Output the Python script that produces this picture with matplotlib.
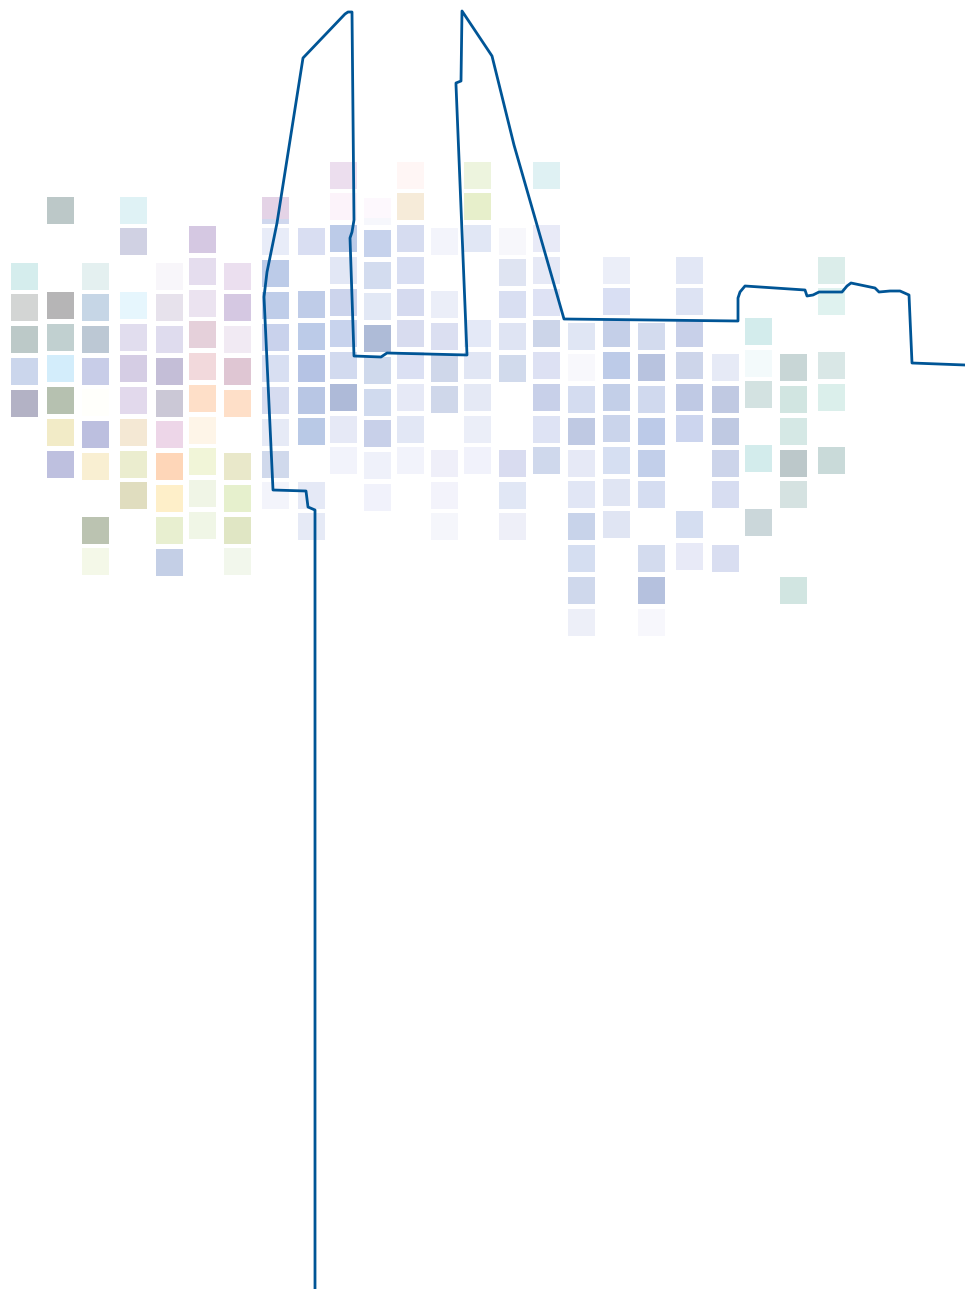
import matplotlib
matplotlib.use("Agg")
import matplotlib.pyplot as plt
from matplotlib.patches import Rectangle

# left edge of every column of squares
lefts = [11, 47, 82, 120, 156, 189, 224, 262, 298, 330, 364, 397,
         431, 464, 499, 533, 568, 603, 638, 676, 712, 745, 780, 818]

tops = [
    [263, 294, 326, 358, 390],
    [197, 292, 324, 355, 387, 419, 451],
    [263, 294, 326, 358, 389, 421, 453, 517, 548],
    [197, 228, 292, 324, 355, 387, 419, 451, 482],
    [263, 294, 326, 358, 390, 421, 453, 485, 517, 549],
    [226, 258, 290, 321, 353, 385, 417, 448, 480, 512],
    [263, 294, 326, 358, 390, 453, 485, 517, 548],
    [197, 228, 260, 292, 324, 355, 387, 419, 451, 482],
    [228, 291, 323, 355, 387, 418, 482, 513],
    [162, 193, 225, 257, 289, 320, 352, 384, 416, 447],
    [198, 230, 262, 293, 325, 357, 389, 420, 452, 484],
    [162, 193, 225, 257, 289, 320, 352, 384, 416, 447],
    [228, 291, 323, 355, 386, 450, 482, 513],
    [162, 193, 225, 320, 352, 384, 416, 447],
    [228, 259, 291, 323, 355, 450, 482, 513],
    [162, 225, 257, 289, 320, 352, 384, 416, 447],
    [323, 354, 386, 418, 450, 481, 513, 545, 577, 609],
    [257, 288, 320, 352, 384, 415, 447, 479, 511],
    [323, 354, 386, 418, 450, 481, 545, 577, 609],
    [257, 288, 320, 352, 384, 415, 511, 543],
    [354, 386, 418, 450, 481, 545],
    [318, 350, 381, 445, 509],
    [354, 386, 418, 450, 481, 577],
    [257, 288, 352, 384, 447],
]

colors = [
    ["#d5eded", "#d3d5d4", "#bcc9c8", "#cbd6ec", "#b3b2c5"],
    ["#bcc8c8", "#b6b5b6", "#c1d0d0", "#d3edfb", "#b6c1b0", "#f2ebc7", "#bec0df"],
    ["#e4f0f0", "#c6d6e6", "#bcc8d4", "#c8cde8", "#fffffb", "#bcbfdf", "#f9efd2", "#bbc3b1", "#f4f8e8"],
    ["#dff2f5", "#d0d1e3", "#e6f6fd", "#e1ddee", "#d5cde4", "#e2d9ec", "#f4e8d4", "#ebedcf", "#e0ddbf"],
    ["#f8f6fa", "#e7e2ec", "#dfdcee", "#c4bed7", "#cbc8d6", "#edd6e8", "#fed6b8", "#feefc9", "#e8efd0", "#c4cfe6"],
    ["#d5c8e2", "#e5ddee", "#ebe3f0", "#e5d0da", "#f2d9dc", "#fedfc8", "#fef5e8", "#f1f5d8", "#f0f5e6", "#f0f6e6"],
    ["#ebdfef", "#d5c8e2", "#f1eaf3", "#dfc6d3", "#fedfc8", "#e9e8ca", "#e6f0cd", "#e0e6c4", "#f2f7ec"],
    ["#d0d8ee", "#e8ecf8", "#bccbe8", "#bfcde9", "#c9d2ec", "#d8dff2", "#d6dcf0", "#e6eaf6", "#d0d9ec", "#f3f4fb"],
    ["#d9def2", "#bfcce8", "#bccbe8", "#b5c3e4", "#b8c6e4", "#b9c9e6", "#e5e9f6", "#e6eaf6"],
    ["#ecdeee", "#fcf3fa", "#bccbe8", "#e2e7f5", "#ccd4ec", "#c8d3ed", "#d2daef", "#aebad8", "#e6e9f6", "#f2f3fb"],
    ["#f6f7fc", "#c6d2ec", "#d3dcef", "#e2e8f5", "#aebbd7", "#cfd9ec", "#d0daee", "#c8d0e9", "#eff1fa", "#f1f2fb"],
    ["#fff6f5", "#f6ebd9", "#d6dcf0", "#d8def2", "#d5daef", "#d8dcef", "#dbe0f3", "#e6e9f6", "#e2e7f5", "#f2f3fb"],
    ["#f3f4fb", "#ebeef8", "#dbdff1", "#cfd7ea", "#cfd7ea", "#efeff9", "#f3f3fb", "#f5f6fb"],
    ["#edf4de", "#e7efcb", "#e1e7f5", "#e4e9f7", "#e1e6f4", "#e5e9f5", "#ebeef8", "#f1f2fb"],
    ["#f7f7fb", "#dfe4f2", "#d9dff2", "#dfe4f3", "#d1daec", "#d9dcf0", "#e1e7f5", "#eeeff8"],
    ["#dff1f3", "#e8eaf7", "#e6e9f6", "#dee2f4", "#ccd5e9", "#dde1f3", "#c8d0e9", "#dee3f4", "#cfd8ec"],
    ["#e0e6f4", "#f8f8fc", "#d4dcf0", "#bfc9e3", "#e6e9f6", "#e1e6f5", "#c8d3ea", "#d5def1", "#cfd8ec", "#edeff8"],
    ["#ebeef8", "#d9dff3", "#c4cfe8", "#bdcbe8", "#c3cfe8", "#cad4eb", "#d6dff2", "#e0e5f3", "#e0e5f3"],
    ["#d3dbee", "#b8c3df", "#d0d9ee", "#bccae8", "#c2cfea", "#d5ddf1", "#d3dbee", "#b5c1de", "#f7f7fc"],
    ["#e2e7f5", "#dde3f3", "#c8d0e9", "#cdd5ea", "#bfc9e4", "#ccd5ee", "#d5def1", "#e8eaf7"],
    ["#e6eaf6", "#c0c9e2", "#bfc9e2", "#ccd4ea", "#d7ddf1", "#d9def1"],
    ["#d3ecec", "#f3fafb", "#d3e2e1", "#d3ecec", "#cbd7da"],
    ["#c8d6d6", "#d1e5e1", "#d5e8e5", "#bcc8ca", "#d5e2e1", "#d1e5e1"],
    ["#dbedea", "#dff2ef", "#d9e7e6", "#dbefeb", "#c9dad9"],
]

# two squares sit on top of another one and leave a strip of it showing
over_lefts = [262, 364]
over_tops = [197, 198]
over_heights = [22, 20]
over_colors = ["#e4d3e6", "#fdf8fd"]

line_x = [315, 315, 308, 306, 273, 264, 267, 277, 303, 345, 348, 352, 354, 352, 350,
          354, 381, 387, 467, 456, 456, 461, 462, 492, 514, 564, 738, 738, 740, 745,
          805, 807, 813, 819, 842, 847, 851, 875, 879, 890, 900, 909, 912, 965]
line_y = [1289, 510, 507, 491, 490, 297, 272, 223, 58, 14, 12, 12, 220, 232, 238,
          356, 357, 353, 355, 85, 83, 81, 11, 56, 145, 319, 321, 298, 292, 286,
          290, 296, 295, 292, 292, 286, 283, 288, 292, 291, 291, 295, 363, 365]

size = 27

fig = plt.figure(figsize=(9.65, 12.89), dpi=100)
ax = fig.add_axes([0, 0, 1, 1])
ax.set_xlim(0, 965)
ax.set_ylim(1289, 0)
ax.axis("off")

for left, col_tops, col_colors in zip(lefts, tops, colors):
    for top, c in zip(col_tops, col_colors):
        ax.add_patch(Rectangle((left, top), size, size, facecolor=c, edgecolor="none"))

for left, top, h, c in zip(over_lefts, over_tops, over_heights, over_colors):
    ax.add_patch(Rectangle((left, top), size, h, facecolor=c, edgecolor="none"))

ax.plot(line_x, line_y, color="#005596", linewidth=2.0, solid_joinstyle="round")

fig.savefig("out.png", dpi=100)
